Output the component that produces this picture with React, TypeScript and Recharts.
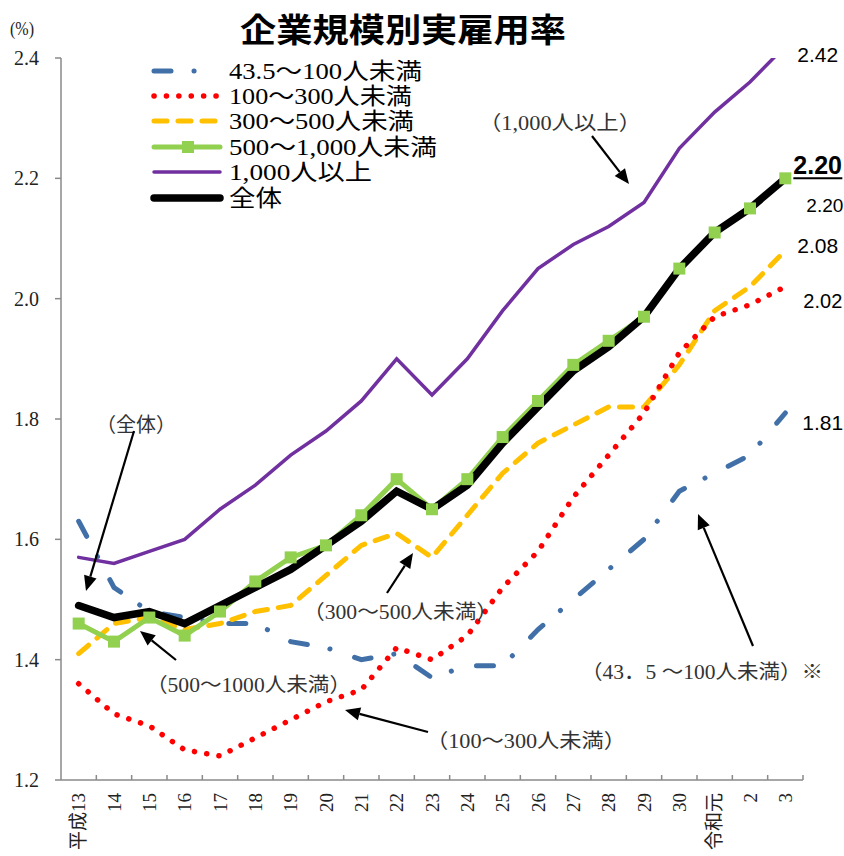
import React from 'react';
import { LineChart, Line, XAxis, YAxis, LabelList } from 'recharts';

const categories = ['平成13', '14', '15', '16', '17', '18', '19', '20', '21', '22', '23', '24', '25', '26', '27', '28', '29', '30', '令和元', '2', '3'];
const yTicks = [1.2, 1.4, 1.6, 1.8, 2.0, 2.2, 2.4];

const s43to100 = [1.63, 1.52, 1.48, 1.47, 1.46, 1.46, 1.43, 1.42, 1.40, 1.41, 1.37, 1.39, 1.39, 1.45, 1.50, 1.55, 1.60, 1.68, 1.71, 1.74, 1.81];
const s100to300 = [1.36, 1.31, 1.29, 1.25, 1.24, 1.27, 1.30, 1.33, 1.35, 1.42, 1.40, 1.44, 1.52, 1.58, 1.67, 1.74, 1.81, 1.91, 1.97, 1.99, 2.02];
const s300to500 = [1.41, 1.46, 1.47, 1.45, 1.46, 1.48, 1.49, 1.54, 1.59, 1.61, 1.57, 1.64, 1.71, 1.76, 1.79, 1.82, 1.82, 1.89, 1.98, 2.02, 2.08];
const s500to1000 = [1.46, 1.43, 1.47, 1.44, 1.48, 1.53, 1.57, 1.59, 1.64, 1.70, 1.65, 1.70, 1.77, 1.83, 1.89, 1.93, 1.97, 2.05, 2.11, 2.15, 2.20];
const s1000over = [1.57, 1.56, 1.58, 1.60, 1.65, 1.69, 1.74, 1.78, 1.83, 1.90, 1.84, 1.90, 1.98, 2.05, 2.09, 2.12, 2.16, 2.25, 2.31, 2.36, 2.42];
const sTotal = [1.49, 1.47, 1.48, 1.46, 1.49, 1.52, 1.55, 1.59, 1.63, 1.68, 1.65, 1.69, 1.76, 1.82, 1.88, 1.92, 1.97, 2.05, 2.11, 2.15, 2.20];

const legendNames = ['43.5～100人未満', '100～300人未満', '300～500人未満', '500～1,000人未満', '1,000人以上', '全体'];

const data = categories.map((c, i) => ({
  idx: i,
  label: c,
  a: s43to100[i],
  b: s100to300[i],
  c: s300to500[i],
  d: s500to1000[i],
  e: s1000over[i],
  t: sTotal[i],
}));
const xTicks = data.map((d) => d.idx);
const LAST = categories.length - 1;

const W = 844;
const H = 856;
const M = { top: 58, right: 41, bottom: 6, left: 0 };
const YW = 61;
const XH = 70;
const PLOT_L = M.left + YW;
const PLOT_R = W - M.right;
const PLOT_B = H - M.bottom - XH;
const HALF = (PLOT_R - PLOT_L) / categories.length / 2;

const AXIS = '#8a8a8a';
const SERIF = "'Liberation Serif', 'DejaVu Serif', 'Noto Sans CJK JP', serif";
const CJK = "'Noto Sans CJK JP', 'Noto Sans CJK SC', sans-serif";
const SANS = "'Liberation Sans', Arial, 'Noto Sans', sans-serif";

const STY = {
  a: { stroke: '#4170A8', strokeWidth: 5, strokeDasharray: '17 23 0.1 26', strokeLinecap: 'round' as const },
  b: { stroke: '#FF0000', strokeWidth: 5.5, strokeDasharray: '0.1 12.3', strokeLinecap: 'round' as const },
  c: { stroke: '#FFC000', strokeWidth: 5, strokeDasharray: '13 11', strokeLinecap: 'round' as const },
  d: { stroke: '#92D050', strokeWidth: 5, strokeLinecap: 'round' as const },
  e: { stroke: '#7030A0', strokeWidth: 3.5, strokeLinecap: 'round' as const },
  t: { stroke: '#000000', strokeWidth: 7.5, strokeLinecap: 'round' as const },
};

const XTick = (props: any) => {
  const { x, payload } = props;
  const label = categories[payload.value];
  const y0 = PLOT_B + 13;
  return (
    <g>
      <line x1={x + HALF} x2={x + HALF} y1={PLOT_B} y2={PLOT_B - 5} stroke={AXIS} strokeWidth={1.5} />
      <text
        x={x}
        y={y0}
        transform={`rotate(-90, ${x}, ${y0})`}
        textAnchor="end"
        dominantBaseline="central"
        fontSize={19}
        fontFamily={SERIF}
        fill="#222"
      >
        {label}
      </text>
    </g>
  );
};

const SquareDot = (props: any) => {
  const { cx, cy, index } = props;
  if (cx == null || cy == null) return <g key={`sq-${index}`} />;
  return <rect key={`sq-${index}`} x={cx - 6} y={cy - 6} width={12} height={12} fill="#92D050" />;
};

const endLabel = (dx: number, dy: number, fontSize: number, bold = false, underline = false, ulen = 0) =>
  (props: any) => {
    const { x, y, value, index } = props;
    if (index !== LAST) return null;
    const tx = x + dx;
    const ty = y + dy;
    return (
      <g>
        <text x={tx} y={ty} fontSize={fontSize} fontFamily={SANS} fontWeight={bold ? 700 : 400} fill="#000">
          {Number(value).toFixed(2)}
        </text>
        {underline && <line x1={tx} x2={tx + ulen} y1={ty + 4} y2={ty + 4} stroke="#000" strokeWidth={2} />}
      </g>
    );
  };

const Arrow = ({ x1, y1, x2, y2 }: { x1: number; y1: number; x2: number; y2: number }) => {
  const dx = x2 - x1;
  const dy = y2 - y1;
  const L = Math.sqrt(dx * dx + dy * dy);
  const ux = dx / L;
  const uy = dy / L;
  const hl = 15;
  const hw = 6.5;
  const bx = x2 - ux * hl;
  const by = y2 - uy * hl;
  const p1 = `${x2},${y2}`;
  const p2 = `${bx - uy * hw},${by + ux * hw}`;
  const p3 = `${bx + uy * hw},${by - ux * hw}`;
  return (
    <g>
      <line x1={x1} y1={y1} x2={bx} y2={by} stroke="#000" strokeWidth={2.2} />
      <polygon points={`${p1} ${p2} ${p3}`} fill="#000" />
    </g>
  );
};

const legendRows = [71, 96, 121, 147, 172, 198];
const legendLens = [193, 183, 185, 208, 143, 53];

const LegendSample = ({ k, y }: { k: keyof typeof STY; y: number }) => {
  const s = STY[k];
  return (
    <g>
      <line x1={154} x2={220} y1={y} y2={y} {...s} />
      {k === 'd' && <rect x={182} y={y - 6} width={12} height={12} fill="#92D050" />}
    </g>
  );
};

const annotations = [
  { text: '（1,000人以上）', x: 479, y: 123, len: 162, arrow: { x1: 592, y1: 136, x2: 629, y2: 184 } },
  { text: '（全体）', x: 96, y: 425, len: 80, arrow: { x1: 134, y1: 431, x2: 86, y2: 591 } },
  { text: '（300～500人未満）', x: 303, y: 612, len: 195, arrow: { x1: 387, y1: 593, x2: 413, y2: 553 } },
  { text: '（500～1000人未満）', x: 146, y: 685, len: 205, arrow: { x1: 176, y1: 660, x2: 140, y2: 631 } },
  { text: '（100～300人未満）', x: 426, y: 741, len: 200, arrow: { x1: 428, y1: 732, x2: 345, y2: 710 } },
  { text: '（43．5 ～100人未満）※', x: 581, y: 672, len: 242, arrow: { x1: 753, y1: 646, x2: 698, y2: 514 } },
];

export default function App() {
  const keys: (keyof typeof STY)[] = ['a', 'b', 'c', 'd', 'e', 't'];
  return (
    <div style={{ position: 'absolute', left: 0, top: 0, width: W, height: H, background: '#fff' }}>
      <LineChart width={W} height={H} data={data} margin={M}>
        <XAxis
          dataKey="idx"
          type="number"
          domain={[-0.5, LAST + 0.5]}
          ticks={xTicks}
          interval={0}
          tick={<XTick />}
          tickLine={false}
          axisLine={{ stroke: AXIS, strokeWidth: 1.5 }}
          height={XH}
        />
        <YAxis
          type="number"
          domain={[1.2, 2.4]}
          ticks={yTicks}
          allowDataOverflow
          width={YW}
          tickFormatter={(v: number) => v.toFixed(1)}
          tick={{ fill: '#222', fontSize: 20, fontFamily: SERIF }}
          tickLine={{ stroke: AXIS, strokeWidth: 1.5 }}
          tickSize={6}
          tickMargin={16}
          axisLine={{ stroke: AXIS, strokeWidth: 1.5 }}
        />
        <Line dataKey="a" type="linear" {...STY.a} dot={false} activeDot={false} isAnimationActive={false}>
          <LabelList dataKey="a" content={endLabel(17, 17, 21)} />
        </Line>
        <Line dataKey="c" type="linear" {...STY.c} dot={false} activeDot={false} isAnimationActive={false}>
          <LabelList dataKey="c" content={endLabel(12, 2, 21)} />
        </Line>
        <Line dataKey="b" type="linear" {...STY.b} dot={false} activeDot={false} isAnimationActive={false}>
          <LabelList dataKey="b" content={endLabel(18, 21, 20)} />
        </Line>
        <Line dataKey="d" type="linear" {...STY.d} dot={<SquareDot />} activeDot={false} isAnimationActive={false}>
          <LabelList dataKey="d" content={endLabel(21, 34, 19)} />
        </Line>
        <Line dataKey="e" type="linear" {...STY.e} dot={false} activeDot={false} isAnimationActive={false}>
          <LabelList dataKey="e" content={endLabel(12, 16, 21)} />
        </Line>
        <Line dataKey="t" type="linear" {...STY.t} dot={false} activeDot={false} isAnimationActive={false}>
          <LabelList dataKey="t" content={endLabel(8, -4, 25, true, true, 49)} />
        </Line>
      </LineChart>
      <svg
        width={W}
        height={H}
        style={{ position: 'absolute', left: 0, top: 0, pointerEvents: 'none' }}
      >
        <text x={10} y={28} fontSize={19} fontFamily={SERIF} fill="#222" dominantBaseline="central" textLength={24} lengthAdjust="spacingAndGlyphs">
          (%)
        </text>
        <text
          x={240}
          y={28}
          fontSize={33}
          fontWeight={700}
          fontFamily={CJK}
          fill="#000"
          dominantBaseline="central"
          textLength={326}
          lengthAdjust="spacingAndGlyphs"
        >
          企業規模別実雇用率
        </text>
        {keys.map((k, i) => (
          <g key={k}>
            <LegendSample k={k} y={legendRows[i]} />
            <text
              x={229}
              y={legendRows[i]}
              fontSize={23}
              fontFamily={SERIF}
              fill="#000"
              dominantBaseline="central"
              textLength={legendLens[i]}
              lengthAdjust="spacingAndGlyphs"
            >
              {legendNames[i]}
            </text>
          </g>
        ))}
        {annotations.map((a, i) => (
          <g key={i}>
            <text
              x={a.x}
              y={a.y}
              fontSize={20}
              fontFamily={SERIF}
              fill="#333"
              dominantBaseline="central"
              textLength={a.len}
              lengthAdjust="spacingAndGlyphs"
            >
              {a.text}
            </text>
            <Arrow {...a.arrow} />
          </g>
        ))}
      </svg>
    </div>
  );
}
